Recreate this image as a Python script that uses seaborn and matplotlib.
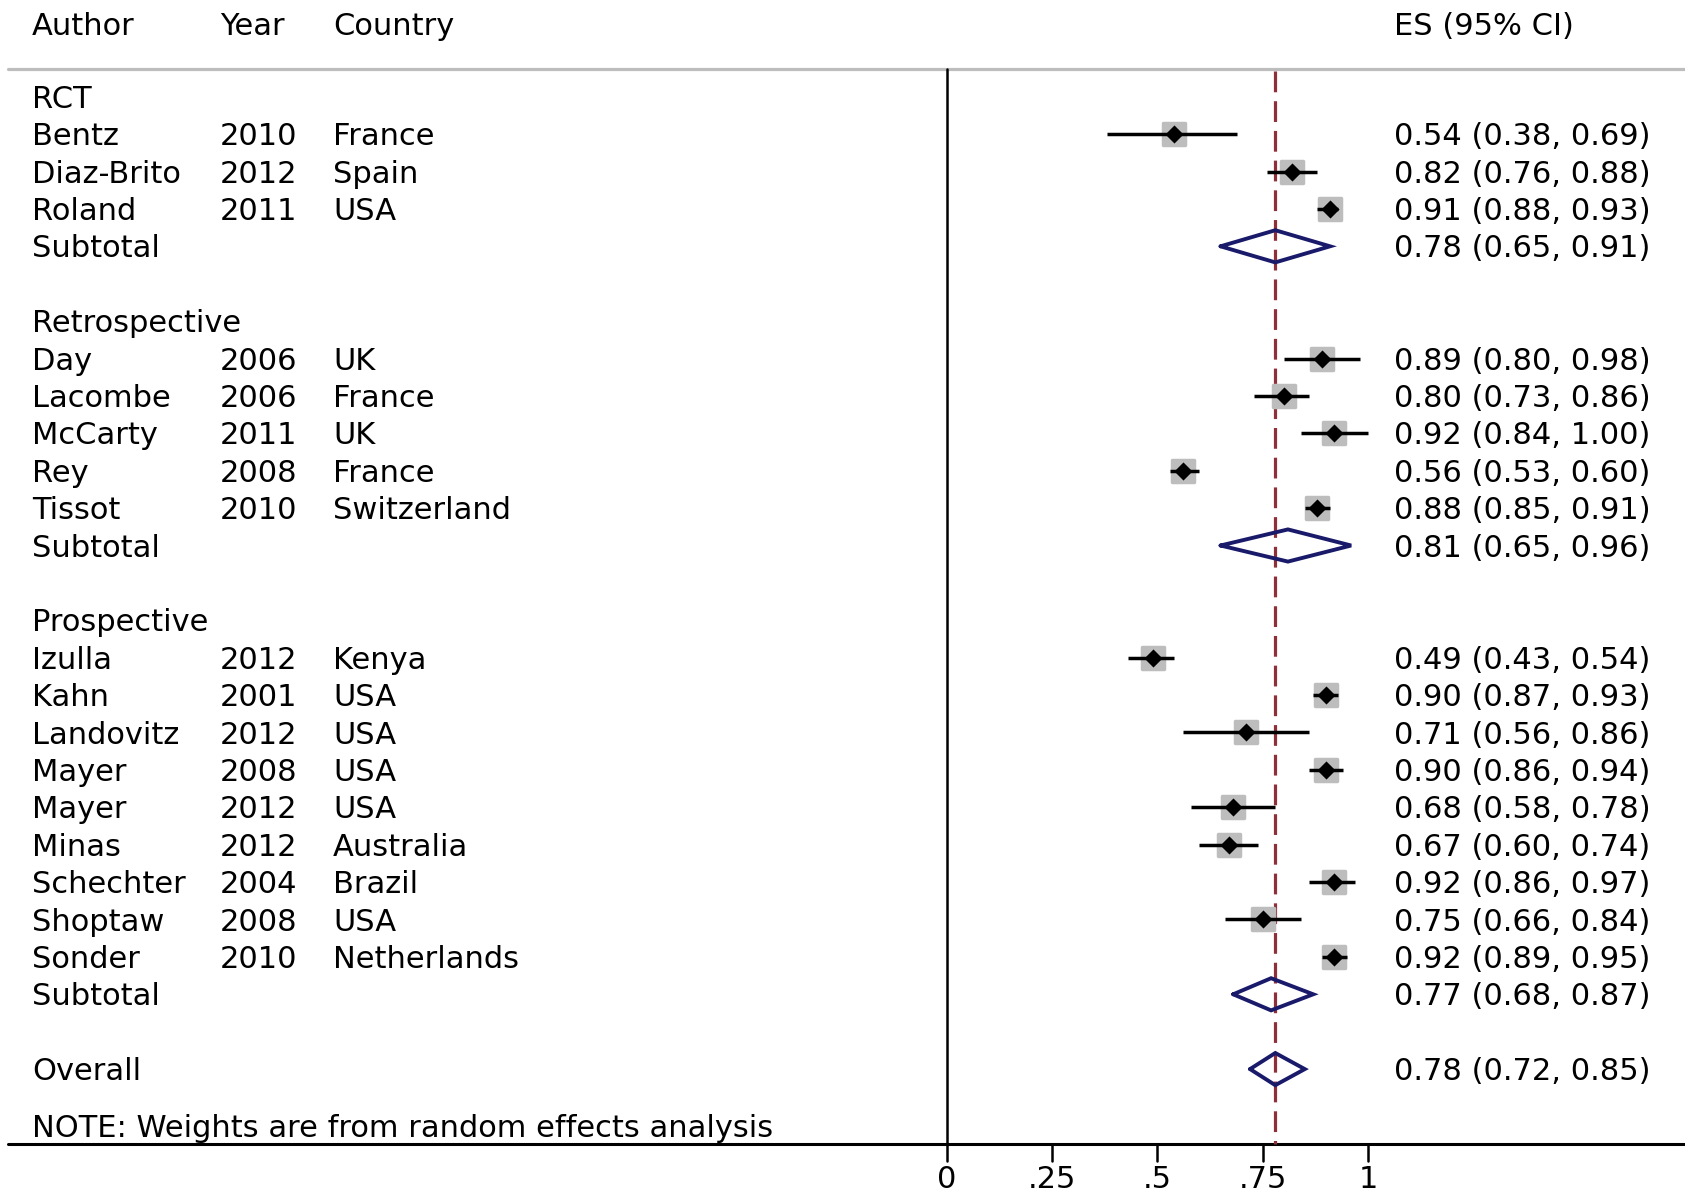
import numpy as np
import pandas as pd
import matplotlib
matplotlib.use("Agg")
import matplotlib.pyplot as plt
import matplotlib.transforms as mtransforms
import seaborn as sns

# ---- data ----
groups = ["RCT", "Retrospective", "Prospective"]

authors = ["Bentz", "Diaz-Brito", "Roland",
           "Day", "Lacombe", "McCarty", "Rey", "Tissot",
           "Izulla", "Kahn", "Landovitz", "Mayer", "Mayer", "Minas",
           "Schechter", "Shoptaw", "Sonder"]
years = ["2010", "2012", "2011",
         "2006", "2006", "2011", "2008", "2010",
         "2012", "2001", "2012", "2008", "2012", "2012",
         "2004", "2008", "2010"]
countries = ["France", "Spain", "USA",
             "UK", "France", "UK", "France", "Switzerland",
             "Kenya", "USA", "USA", "USA", "USA", "Australia",
             "Brazil", "USA", "Netherlands"]
study_group = ["RCT"] * 3 + ["Retrospective"] * 5 + ["Prospective"] * 9
es = [0.54, 0.82, 0.91,
      0.89, 0.80, 0.92, 0.56, 0.88,
      0.49, 0.90, 0.71, 0.90, 0.68, 0.67, 0.92, 0.75, 0.92]
lo = [0.38, 0.76, 0.88,
      0.80, 0.73, 0.84, 0.53, 0.85,
      0.43, 0.87, 0.56, 0.86, 0.58, 0.60, 0.86, 0.66, 0.89]
hi = [0.69, 0.88, 0.93,
      0.98, 0.86, 1.00, 0.60, 0.91,
      0.54, 0.93, 0.86, 0.94, 0.78, 0.74, 0.97, 0.84, 0.95]

sub_es = [0.78, 0.81, 0.77]
sub_lo = [0.65, 0.65, 0.68]
sub_hi = [0.91, 0.96, 0.87]

overall_es, overall_lo, overall_hi = 0.78, 0.72, 0.85

xticks = [0, 0.25, 0.5, 0.75, 1]
xtick_labels = ["0", ".25", ".5", ".75", "1"]

# ---- build row layout ----
df = pd.DataFrame({"author": authors, "year": years, "country": countries,
                   "group": study_group, "es": es, "lo": lo, "hi": hi})
rows = []
subs = []
r = 0
for gi, g in enumerate(groups):
    rows.append(("header", g, r)); r += 1
    for idx in df.index[df["group"] == g]:
        df.loc[idx, "row"] = r
        r += 1
    subs.append(r); r += 2
overall_row = r

FONT = ["DejaVu Sans"]
FS = 22
NAVY = "#1a1a6b"
DRED = "#8e2f3a"
GRAY = "#bdbdbd"
TY = 0.07  # small downward nudge so text sits on the row like the reference

sns.set_style("white")
plt.rcParams["font.family"] = FONT
plt.rcParams["text.color"] = "black"

fig = plt.figure(figsize=(16.85, 11.94), dpi=100)
ax = fig.add_axes([0, 0, 1, 1])
ax.set_xlim(-2.2475, 1.7526)
ax.set_ylim(29.34, -2.586)
ax.axis("off")

trans = mtransforms.blended_transform_factory(ax.transAxes, ax.transData)
col_author, col_year, col_country, col_es = 0.019, 0.1307, 0.1977, 0.8272


def label(x, y, s, **kw):
    ax.text(x, y + TY, s, transform=trans, fontsize=FS, va="center", ha="left",
            color="black", **kw)


header_y = -1.954
line_top = -0.747
line_bot = 27.99

# header
for x, t in [(col_author, "Author"), (col_year, "Year"), (col_country, "Country"),
             (col_es, "ES (95% CI)")]:
    label(x, header_y, t)

ax.plot([0.005, 1.0], [line_top, line_top], transform=trans, color=GRAY, lw=2.3)
ax.plot([0.005, 1.0], [line_bot, line_bot], transform=trans, color="black", lw=2.2)
ax.plot([0, 0], [line_top, line_bot], color="black", lw=1.8)
ax.plot([overall_es, overall_es], [line_top + 0.05, line_bot], color=DRED, lw=2.3,
        dashes=(6.5, 2.8))

# ticks
for xt, lab in zip(xticks, xtick_labels):
    ax.plot([xt, xt], [line_bot, line_bot + 0.46], color="black", lw=1.8)
    ax.text(xt, 28.95, lab, fontsize=FS, ha="center", va="center", color="black")

# group headers
for kind, g, rr in rows:
    label(col_author, rr, g)

# studies
ax.hlines(df["row"], df["lo"], df["hi"], color="black", lw=2.5, zorder=3)
sns.scatterplot(data=df, x="es", y="row", marker="s", s=270, color=GRAY,
                edgecolor=GRAY, linewidth=2.5, ax=ax, zorder=2, legend=False)
sns.scatterplot(data=df, x="es", y="row", marker="D", s=85, color="black",
                linewidth=0, ax=ax, zorder=4, legend=False)
for _, d in df.iterrows():
    label(col_author, d["row"], d["author"])
    label(col_year, d["row"], d["year"])
    label(col_country, d["row"], d["country"])
    label(col_es, d["row"], f"{d['es']:.2f} ({d['lo']:.2f}, {d['hi']:.2f})")


def diamond(e, l, h, rr):
    hh = 0.43
    ax.plot([l, e, h, e, l], [rr, rr - hh, rr, rr + hh, rr], color=NAVY, lw=2.8,
            solid_joinstyle="miter", zorder=5)


for e, l, h, rr in zip(sub_es, sub_lo, sub_hi, subs):
    diamond(e, l, h, rr)
    label(col_author, rr, "Subtotal")
    label(col_es, rr, f"{e:.2f} ({l:.2f}, {h:.2f})")

diamond(overall_es, overall_lo, overall_hi, overall_row)
label(col_author, overall_row, "Overall")
label(col_es, overall_row, f"{overall_es:.2f} ({overall_lo:.2f}, {overall_hi:.2f})")

label(col_author, 27.53, "NOTE: Weights are from random effects analysis")

fig.savefig("out.png", dpi=100, facecolor="white")
